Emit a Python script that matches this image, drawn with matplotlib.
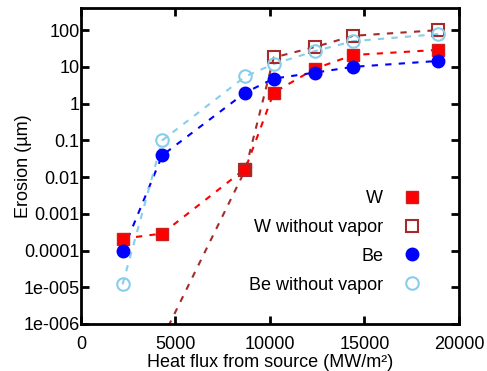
import numpy as np
import matplotlib
matplotlib.use("Agg")
import matplotlib.pyplot as plt
from matplotlib.ticker import FixedLocator

plt.rcParams['font.family'] = ['Liberation Sans', 'DejaVu Sans']

# heat flux (MW/m^2)
flux = [2200, 4300, 8700, 10200, 12400, 14400, 18900]

# erosion (um)
w_vap = [2.1e-4, 2.9e-4, 0.017, 2.0, 9.0, 21, 29]
w_novap = [1e-8, 4e-7, 0.016, 18, 35, 70, 100]
be_vap = [9.5e-5, 0.039, 2.0, 4.8, 7.0, 10, 14.5]
be_novap = [1.2e-5, 0.1, 5.5, 12, 27, 50, 78]

ytick_vals = [1e-6, 1e-5, 1e-4, 1e-3, 1e-2, 0.1, 1, 10, 100]
ytick_labels = ["1e-006", "1e-005", "0.0001", "0.001", "0.01", "0.1", "1", "10", "100"]

fig = plt.figure(figsize=(4.87, 3.71), dpi=100)
ax = fig.add_axes([0.1663, 0.1267, 0.7762, 0.8517])

dash = (0, (3, 3.5))
ax.plot(flux, w_vap, linestyle=dash, color='red', lw=1.5, zorder=2)
ax.plot(flux, w_novap, linestyle=dash, color='#a52a2a', lw=1.5, zorder=2)
ax.plot(flux, be_vap, linestyle=dash, color='blue', lw=1.5, zorder=2)
ax.plot(flux, be_novap, linestyle=dash, color='#87ceeb', lw=1.5, zorder=2)

ax.plot(flux, w_vap, 's', color='red', ms=9, mec='#cc2020', mew=1, label='W', zorder=3)
ax.plot(flux, w_novap, 's', mfc='none', mec='#a52a2a', ms=9, mew=1.5, label='W without vapor', zorder=3)
ax.plot(flux, be_vap, 'o', color='blue', ms=9, label='Be', zorder=3)
ax.plot(flux, be_novap, 'o', mfc='none', mec='#87ceeb', ms=9, mew=1.5, label='Be without vapor', zorder=3)

ax.set_yscale('log')
ax.set_xlim(0, 20000)
ax.set_ylim(1e-6, 400)
ax.yaxis.set_major_locator(FixedLocator(ytick_vals))
ax.yaxis.set_minor_locator(FixedLocator([]))
ax.set_yticklabels(ytick_labels)
ax.set_xticks([0, 5000, 10000, 15000, 20000])
ax.tick_params(direction='in', length=6, width=2, labelsize=13, top=True, right=True)
ax.tick_params(axis='x', pad=9)
ax.tick_params(axis='y', pad=1)
for s in ax.spines.values():
    s.set_linewidth(2)

ax.set_xlabel("Heat flux from source (MW/m\u00b2)", fontsize=13)
ax.xaxis.label.set_va('baseline')
ax.xaxis.set_label_coords(0.5, -0.137)
ax.set_ylabel("Erosion (\u00b5m)", fontsize=13)
ax.yaxis.set_label_coords(-0.13, 0.5)

ax.legend(loc='lower right', bbox_to_anchor=(0.943, 0.045), frameon=False, markerfirst=False,
          fontsize=13, handlelength=1, handletextpad=1.1, labelspacing=0.65)

plt.savefig("out.png", dpi=100)
